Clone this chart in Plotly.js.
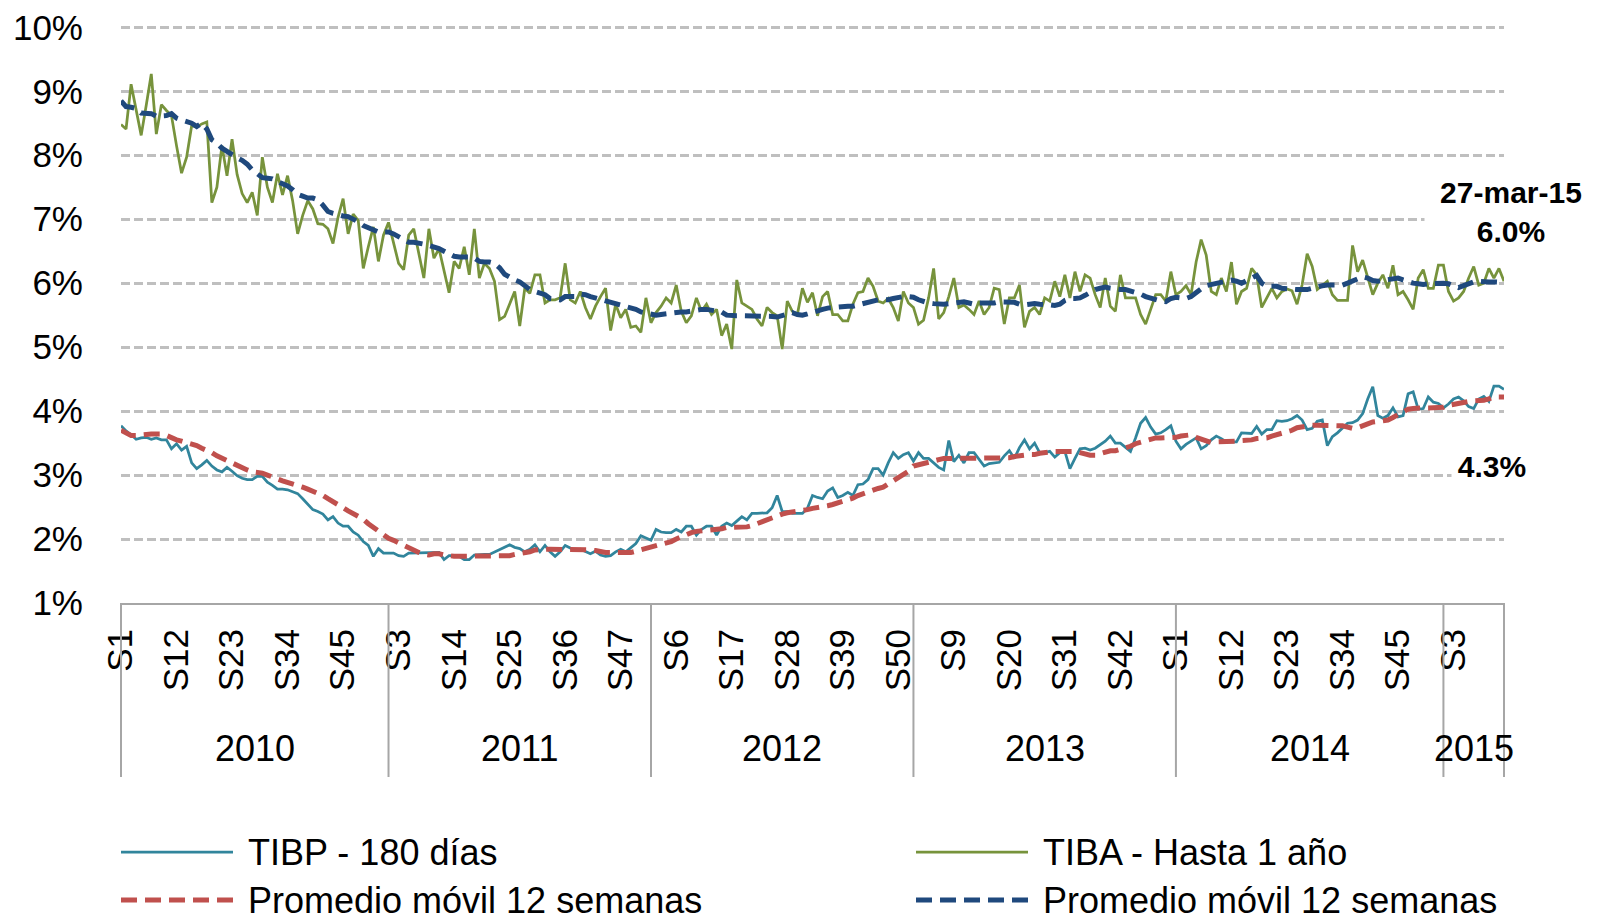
<!DOCTYPE html>
<html><head><meta charset="utf-8">
<script src="https://cdn.plot.ly/plotly-3.0.1.min.js"></script>
<style>html,body{margin:0;padding:0;background:#fff}#chart{width:1604px;height:920px}</style>
</head><body><div id="chart"></div><script>
// ---- data ----
const years = ['2010','2011','2012','2013','2014','2015'];
const weeksPerYear = [53, 52, 52, 52, 53, 13];
const weekTickStep = 11;
const yTicks = [1,2,3,4,5,6,7,8,9,10];
const seriesNames = ['TIBP - 180 días','TIBA - Hasta 1 año','Promedio móvil 12 semanas','Promedio móvil 12 semanas'];
const lastDateLabel = '27-mar-15';

const tibp = [
3.77,3.69,3.63,3.56,3.58,3.59,3.56,3.58,3.55,3.55,3.41,3.49,3.39,3.45,3.19,3.10,3.16,3.23,3.14,3.08,3.05,3.12,3.06,2.99,2.95,2.93,2.93,2.98,2.98,2.89,2.84,2.78,2.78,2.77,2.74,2.71,2.63,2.55,2.46,2.43,2.39,2.30,2.35,2.25,2.20,2.20,
2.11,2.06,1.96,1.90,1.73,1.85,1.78,1.78,1.78,1.74,1.73,1.78,1.78,1.78,1.78,1.78,1.79,1.79,1.68,1.74,1.74,1.73,1.68,1.68,1.75,1.76,1.76,1.76,1.80,1.83,1.88,1.91,1.87,1.85,1.80,1.84,1.91,1.80,1.90,1.80,1.73,1.80,1.90,1.86,1.82,1.84,
1.81,1.77,1.81,1.75,1.73,1.74,1.80,1.84,1.80,1.86,1.93,2.05,2.01,1.98,2.15,2.11,2.10,2.10,2.15,2.11,2.20,2.20,2.06,2.15,2.20,2.20,2.06,2.20,2.25,2.21,2.28,2.35,2.30,2.40,2.40,2.40,2.41,2.49,2.68,2.43,2.43,2.40,2.40,2.40,2.48,2.68,
2.65,2.63,2.75,2.80,2.65,2.68,2.73,2.68,2.85,2.86,2.93,3.10,3.10,3.00,3.19,3.35,3.26,3.32,3.35,3.22,3.35,3.26,3.26,3.19,3.12,3.08,3.54,3.21,3.31,3.19,3.35,3.35,3.24,3.14,3.18,3.19,3.20,3.30,3.38,3.26,3.43,3.55,3.41,3.50,3.35,3.35,
3.37,3.28,3.35,3.37,3.10,3.26,3.41,3.42,3.39,3.42,3.48,3.53,3.61,3.50,3.50,3.44,3.37,3.58,3.81,3.90,3.75,3.64,3.66,3.71,3.77,3.53,3.41,3.48,3.53,3.58,3.41,3.46,3.55,3.61,3.57,3.52,3.52,3.52,3.66,3.65,3.65,3.76,3.64,3.71,3.71,3.85,
3.84,3.85,3.88,3.93,3.86,3.71,3.73,3.84,3.86,3.46,3.60,3.66,3.73,3.81,3.82,3.86,3.96,4.19,4.38,3.93,3.89,3.93,4.05,3.91,3.93,4.27,4.30,4.03,4.04,4.22,4.14,4.12,4.05,4.11,4.19,4.22,4.16,4.07,4.04,4.19,4.23,4.15,4.39,4.39,4.34
];
const tiba = [
8.48,8.41,9.11,8.72,8.31,8.78,9.27,8.33,8.79,8.70,8.62,8.15,7.72,7.97,8.46,8.44,8.49,8.52,7.26,7.50,8.15,7.68,8.25,7.70,7.40,7.26,7.42,7.06,7.97,7.50,7.26,7.71,7.38,7.68,7.29,6.77,7.06,7.29,7.16,6.93,6.92,6.85,6.62,7.03,7.32,6.77,
7.08,6.98,6.23,6.57,6.88,6.34,6.75,6.95,6.62,6.31,6.21,6.75,6.85,6.49,6.08,6.85,6.39,6.54,6.18,5.85,6.34,6.23,6.57,6.13,6.85,6.08,6.31,6.23,6.03,5.43,5.48,5.69,5.87,5.33,5.92,5.84,6.13,6.13,5.69,5.74,5.74,5.77,6.31,5.74,5.69,5.87,
5.62,5.44,5.64,5.79,5.92,5.26,5.67,5.46,5.59,5.31,5.33,5.23,5.77,5.38,5.54,5.64,5.77,5.69,5.97,5.56,5.38,5.49,5.77,5.56,5.67,5.51,5.59,5.18,5.36,4.97,6.05,5.69,5.64,5.59,5.44,5.33,5.62,5.54,5.49,4.97,5.72,5.56,5.51,5.92,5.70,5.85,
5.49,5.79,5.87,5.51,5.51,5.41,5.41,5.67,5.85,5.87,6.08,5.95,5.72,5.69,5.76,5.62,5.41,5.87,5.69,5.62,5.36,5.42,5.77,6.23,5.44,5.54,5.79,6.08,5.62,5.66,5.59,5.51,5.72,5.51,5.62,5.92,5.90,5.36,5.77,5.77,5.97,5.31,5.56,5.62,5.51,5.77,
5.72,6.03,5.79,6.13,5.77,6.18,5.87,6.13,6.08,5.82,5.62,6.08,5.64,5.56,6.13,5.77,5.77,5.77,5.51,5.36,5.59,5.82,5.82,5.72,6.18,5.82,5.87,5.96,5.82,6.33,6.68,6.44,5.87,5.82,6.08,5.87,6.33,5.67,5.87,5.92,6.23,6.13,5.62,5.77,5.92,5.77,
5.87,5.91,5.88,5.67,5.97,6.46,6.26,5.90,5.96,6.03,5.82,5.73,5.73,5.73,6.59,6.18,6.36,6.10,5.82,6.00,6.13,5.92,6.28,5.82,5.87,5.74,5.59,6.08,6.21,5.92,5.92,6.28,6.28,5.87,5.72,5.77,5.87,6.08,6.26,5.97,6.00,6.23,6.08,6.23,6.03
];
const tibpMA = [
3.70,3.65,3.62,3.62,3.63,3.64,3.64,3.64,3.64,3.62,3.58,3.55,3.53,3.51,3.49,3.46,3.42,3.39,3.35,3.30,3.26,3.23,3.19,3.15,3.11,3.08,3.05,3.04,3.03,3.00,2.98,2.94,2.91,2.89,2.87,2.85,2.81,2.78,2.75,2.72,2.68,2.63,2.59,2.54,2.49,2.44,
2.40,2.35,2.31,2.24,2.18,2.11,2.06,2.01,1.98,1.94,1.89,1.85,1.82,1.79,1.76,1.75,1.77,1.77,1.75,1.73,1.73,1.73,1.73,1.73,1.73,1.73,1.73,1.73,1.73,1.73,1.73,1.74,1.76,1.77,1.78,1.80,1.83,1.84,1.84,1.84,1.84,1.84,1.84,1.84,1.84,1.84,
1.83,1.83,1.82,1.80,1.79,1.79,1.79,1.79,1.79,1.79,1.81,1.83,1.85,1.86,1.88,1.90,1.92,1.96,2.00,2.04,2.08,2.10,2.12,2.13,2.13,2.13,2.14,2.16,2.18,2.18,2.18,2.18,2.19,2.21,2.24,2.27,2.30,2.35,2.38,2.39,2.41,2.42,2.43,2.44,2.46,2.48,
2.49,2.50,2.52,2.54,2.56,2.58,2.60,2.64,2.68,2.71,2.75,2.78,2.79,2.81,2.86,2.92,2.96,3.01,3.06,3.14,3.16,3.18,3.22,3.24,3.25,3.26,3.26,3.26,3.26,3.26,3.26,3.26,3.26,3.26,3.26,3.26,3.26,3.26,3.27,3.29,3.31,3.31,3.32,3.32,3.34,3.36,
3.36,3.37,3.37,3.37,3.37,3.37,3.35,3.32,3.31,3.31,3.34,3.37,3.38,3.38,3.40,3.42,3.45,3.49,3.51,3.54,3.57,3.58,3.58,3.58,3.59,3.59,3.61,3.63,3.63,3.59,3.56,3.54,3.51,3.52,3.52,3.53,3.53,3.53,3.54,3.54,3.55,3.57,3.58,3.58,3.61,3.63,
3.65,3.68,3.70,3.74,3.76,3.78,3.78,3.78,3.78,3.78,3.78,3.78,3.77,3.75,3.73,3.74,3.76,3.80,3.83,3.84,3.85,3.86,3.90,3.94,3.98,4.03,4.04,4.05,4.05,4.05,4.05,4.05,4.06,4.09,4.11,4.12,4.14,4.15,4.16,4.16,4.17,4.19,4.22,4.22,4.22
];
const tibaMA = [
8.85,8.76,8.75,8.73,8.66,8.66,8.65,8.61,8.61,8.62,8.65,8.58,8.55,8.53,8.50,8.45,8.50,8.41,8.24,8.19,8.11,8.06,8.00,7.96,7.92,7.86,7.77,7.70,7.65,7.64,7.63,7.59,7.56,7.52,7.46,7.39,7.36,7.33,7.33,7.30,7.22,7.12,7.09,7.06,7.05,7.04,
7.01,6.96,6.90,6.86,6.82,6.80,6.80,6.80,6.77,6.72,6.67,6.64,6.64,6.63,6.61,6.59,6.57,6.54,6.50,6.46,6.42,6.41,6.41,6.41,6.39,6.34,6.33,6.33,6.31,6.24,6.14,6.09,6.05,6.02,5.96,5.90,5.87,5.85,5.82,5.76,5.74,5.74,5.79,5.79,5.79,5.83,
5.82,5.79,5.77,5.75,5.73,5.69,5.68,5.65,5.63,5.61,5.59,5.55,5.53,5.50,5.50,5.51,5.52,5.54,5.55,5.55,5.55,5.57,5.58,5.59,5.59,5.58,5.57,5.55,5.50,5.49,5.49,5.49,5.49,5.49,5.49,5.49,5.49,5.48,5.47,5.49,5.51,5.54,5.51,5.50,5.52,5.55,
5.56,5.59,5.61,5.62,5.62,5.63,5.64,5.64,5.66,5.68,5.71,5.73,5.74,5.74,5.74,5.76,5.78,5.79,5.79,5.78,5.74,5.71,5.69,5.68,5.67,5.67,5.68,5.69,5.71,5.71,5.69,5.67,5.69,5.69,5.68,5.69,5.71,5.71,5.71,5.70,5.67,5.66,5.67,5.68,5.67,5.67,
5.66,5.65,5.67,5.73,5.76,5.76,5.77,5.81,5.86,5.90,5.92,5.94,5.92,5.90,5.90,5.90,5.88,5.85,5.83,5.79,5.76,5.74,5.72,5.71,5.76,5.78,5.77,5.76,5.79,5.86,5.91,5.96,5.98,5.98,6.00,6.02,6.05,6.03,6.00,6.04,6.09,6.12,6.00,5.95,5.95,5.95,
5.92,5.91,5.90,5.90,5.90,5.90,5.92,5.95,5.96,5.97,5.97,5.97,5.97,6.00,6.03,6.07,6.10,6.08,6.04,6.03,6.04,6.05,6.07,6.08,6.05,6.02,6.00,5.99,5.98,5.99,6.00,6.00,6.00,5.99,5.96,5.93,5.96,6.00,6.02,6.03,6.02,6.02,6.02,6.01,6.01
];

// ---- styles ----
const FONT = 'Liberation Sans, Arial, sans-serif';
const FS = 35;
const FS_LEG = 36;
const colors = ['#31859C', '#77933C', '#C0504D', '#1F497D'];
const widths = [2.75, 2.75, 5, 5];
const dashes = ['solid', 'solid', '16px,8px', '16px,8px'];
const axisGray = '#A6A6A6';

const n = tiba.length;
const xIdx = Array.from({length: n}, (_, i) => i);

// week labels per index and year boundaries
const weekLabels = [];
const yearStarts = [];
weeksPerYear.forEach((w) => {
  yearStarts.push(weekLabels.length);
  for (let k = 1; k <= w; k++) weekLabels.push('S' + k);
});
const tickvals = xIdx.filter(i => i % weekTickStep === 0);
const ticktext = tickvals.map(i => weekLabels[i]);

const allSeries = [tibp, tiba, tibpMA, tibaMA];
const traces = allSeries.map((ys, k) => ({
  x: xIdx, y: ys, type: 'scatter', mode: 'lines', name: seriesNames[k],
  line: {color: colors[k], width: widths[k], dash: dashes[k]},
  hoverinfo: 'skip', showlegend: false
}));

// paper helpers
const M = {l: 121, r: 100, t: 26, b: 317};
const W = 1604, H = 920;
const pw = W - M.l - M.r, ph = H - M.t - M.b;
const px2x = px => (px - M.l) / pw;
const px2y = py => (H - M.b - py) / ph;
const idx2x = i => i / (n - 1);

const shapes = [];
const annotations = [];

// year separators (at first week of each year and at last point)
const bounds = yearStarts.concat([n - 1]);
bounds.forEach(b => shapes.push({
  type: 'line', xref: 'paper', yref: 'paper', x0: idx2x(b), x1: idx2x(b),
  y0: 0, y1: px2y(777), line: {color: axisGray, width: 2}
}));
// year labels
years.forEach((yr, k) => {
  const a = bounds[k], b = bounds[k + 1];
  annotations.push({
    xref: 'paper', yref: 'paper', x: idx2x((a + b) / 2), y: px2y(748),
    text: yr, showarrow: false, xanchor: 'center', yanchor: 'middle',
    font: {family: FONT, size: FS_LEG, color: '#000'}
  });
});

// end labels
annotations.push({
  xref: 'paper', yref: 'paper', x: px2x(1511), y: px2y(212),
  text: '<b>' + lastDateLabel + '</b><br><b>' + tiba[n - 1].toFixed(1) + '%</b>',
  showarrow: false, xanchor: 'center', yanchor: 'middle', align: 'center',
  bgcolor: '#fff', width: 170,
  font: {family: FONT, size: 30, color: '#000'}
});
annotations.push({
  xref: 'paper', yref: 'paper', x: px2x(1492), y: px2y(466),
  text: '<b>' + tibp[n - 1].toFixed(1) + '%</b>',
  showarrow: false, xanchor: 'center', yanchor: 'middle', align: 'center',
  bgcolor: '#fff', width: 78,
  font: {family: FONT, size: 30, color: '#000'}
});

// manual legend: 2 columns x 2 rows
const legPos = [
  {lx0: 121, lx1: 233, tx: 246, y: 852},
  {lx0: 916, lx1: 1028, tx: 1041, y: 852},
  {lx0: 121, lx1: 233, tx: 246, y: 900},
  {lx0: 916, lx1: 1028, tx: 1041, y: 900}
];
legPos.forEach((p, k) => {
  shapes.push({
    type: 'line', xref: 'paper', yref: 'paper',
    x0: px2x(p.lx0), x1: px2x(p.lx1), y0: px2y(p.y), y1: px2y(p.y),
    line: {color: colors[k], width: widths[k], dash: dashes[k]}
  });
  annotations.push({
    xref: 'paper', yref: 'paper', x: px2x(p.tx), y: px2y(p.y),
    text: seriesNames[k], showarrow: false, xanchor: 'left', yanchor: 'middle',
    font: {family: FONT, size: FS_LEG, color: '#000'}
  });
});

const layout = {
  width: W, height: H, margin: M,
  paper_bgcolor: '#fff', plot_bgcolor: '#fff',
  font: {family: FONT, size: FS, color: '#000'},
  showlegend: false,
  xaxis: {
    range: [0, n - 1], tickmode: 'array', tickvals: tickvals, ticktext: ticktext,
    tickangle: -90, ticks: 'outside', ticklen: 10, tickcolor: 'rgba(0,0,0,0)',
    showgrid: false, zeroline: false, showline: true, linecolor: axisGray, linewidth: 2,
    tickfont: {family: FONT, size: FS, color: '#000'}, automargin: false, fixedrange: true
  },
  yaxis: {
    range: [1, 10.02], tickmode: 'array', tickvals: yTicks, ticktext: yTicks.map(v => v + '%'),
    ticks: 'outside', ticklen: 30, tickcolor: 'rgba(0,0,0,0)',
    showgrid: true, gridcolor: '#BFBFBF', gridwidth: 3, griddash: '9px,4px',
    zeroline: false, showline: false,
    tickfont: {family: FONT, size: FS, color: '#000'}, automargin: false, fixedrange: true
  },
  shapes: shapes,
  annotations: annotations
};

Plotly.newPlot('chart', traces, layout, {displayModeBar: false, staticPlot: true});
</script></body></html>
